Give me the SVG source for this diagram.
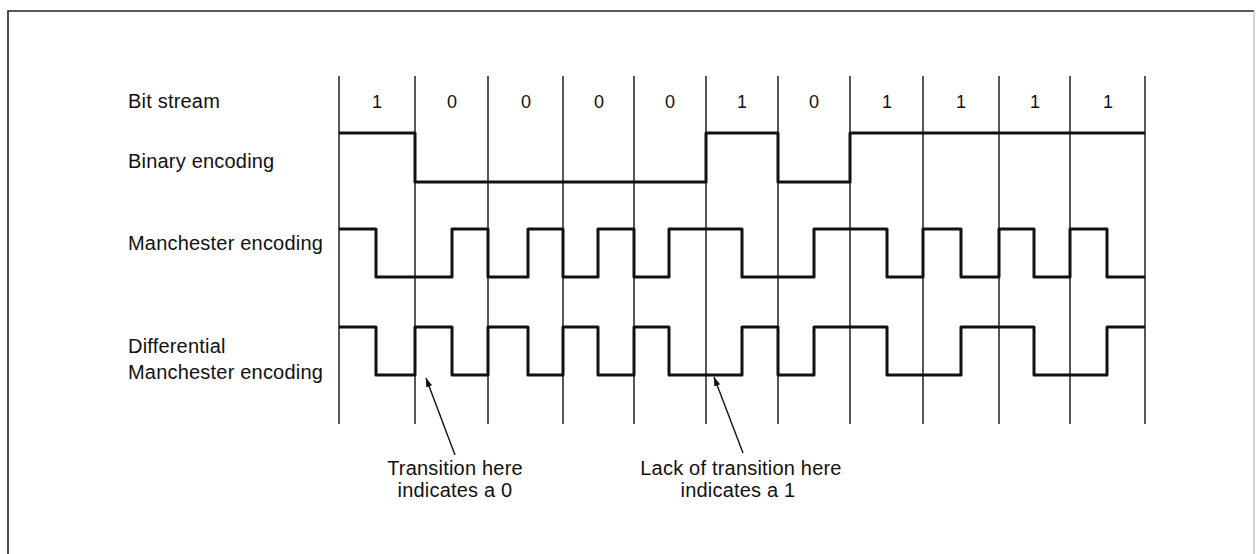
<svg xmlns="http://www.w3.org/2000/svg" width="1256" height="554" viewBox="0 0 1256 554">
<style>
text{font-family:"Liberation Sans",Arial,sans-serif;fill:#111;font-size:20px;letter-spacing:0.2px}
.bit{font-size:18px;text-anchor:middle}
.note{text-anchor:middle}
.grid line{stroke:#111;stroke-width:1.4}
.wave{fill:none;stroke:#111;stroke-width:3;stroke-linejoin:round}
.arrow{stroke:#111;stroke-width:1.4;marker-end:url(#ah)}
</style>
<defs>
<marker id="ah" viewBox="0 0 10 10" refX="10" refY="5" markerWidth="9" markerHeight="9" markerUnits="userSpaceOnUse" orient="auto">
<path d="M0,1.5 L10,5 L0,8.5 Z" fill="#111"/>
</marker>
</defs>
<rect width="1256" height="554" fill="#fff"/>
<g id="frame">
<path d="M8,560 V11 H1254" fill="none" stroke="#222" stroke-width="1.6"/>
<path d="M1254,11 V560" fill="none" stroke="#aaa" stroke-width="1"/>
</g>
<g id="labels">
<text x="128" y="108">Bit stream</text>
<text x="128" y="168">Binary encoding</text>
<text x="128" y="250">Manchester encoding</text>
<text x="128" y="353">Differential</text>
<text x="128" y="379">Manchester encoding</text>
</g>
<g id="grid" class="grid">
<line x1="339" y1="76" x2="339" y2="424"/>
<line x1="415" y1="76" x2="415" y2="424"/>
<line x1="488" y1="76" x2="488" y2="424"/>
<line x1="563" y1="76" x2="563" y2="424"/>
<line x1="634" y1="76" x2="634" y2="424"/>
<line x1="706" y1="76" x2="706" y2="424"/>
<line x1="778" y1="76" x2="778" y2="424"/>
<line x1="850" y1="76" x2="850" y2="424"/>
<line x1="923" y1="76" x2="923" y2="424"/>
<line x1="999" y1="76" x2="999" y2="424"/>
<line x1="1070" y1="76" x2="1070" y2="424"/>
<line x1="1145" y1="76" x2="1145" y2="424"/>
</g>
<g id="bits">
<text class="bit" x="377" y="108">1</text>
<text class="bit" x="452" y="108">0</text>
<text class="bit" x="526" y="108">0</text>
<text class="bit" x="599" y="108">0</text>
<text class="bit" x="670" y="108">0</text>
<text class="bit" x="742" y="108">1</text>
<text class="bit" x="814" y="108">0</text>
<text class="bit" x="887" y="108">1</text>
<text class="bit" x="961" y="108">1</text>
<text class="bit" x="1035" y="108">1</text>
<text class="bit" x="1108" y="108">1</text>
</g>
<g id="binary">
<path class="wave" d="M339,133 H415 V182 H706 V133 H778 V182 H850 V133 H1145"/>
</g>
<g id="manchester">
<path class="wave" d="M339,229 H376 V277 H452 V229 H488 V277 H528 V229 H563 V277 H598 V229 H634 V277 H669 V229 H742 V277 H814 V229 H887 V277 H923 V229 H961 V277 H999 V229 H1034 V277 H1070 V229 H1107 V277 H1145"/>
</g>
<g id="differential">
<path class="wave" d="M339,327 H376 V375 H415 V327 H452 V375 H488 V327 H528 V375 H563 V327 H598 V375 H634 V327 H669 V375 H742 V327 H778 V375 H814 V327 H887 V375 H961 V327 H1034 V375 H1107 V327 H1145"/>
</g>
<g id="connectors">
<line class="arrow" x1="455" y1="455" x2="426" y2="378"/>
<line class="arrow" x1="743" y1="453" x2="714" y2="377"/>
</g>
<g id="note-transition">
<text class="note" x="455" y="475">Transition here</text>
<text class="note" x="455" y="497">indicates a 0</text>
</g>
<g id="note-lack">
<text class="note" x="741" y="475">Lack of transition here</text>
<text class="note" x="738" y="497">indicates a 1</text>
</g>
</svg>
